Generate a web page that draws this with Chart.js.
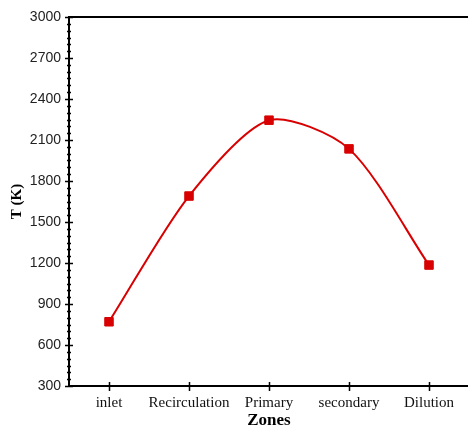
<!DOCTYPE html>
<html>
<head>
<meta charset="utf-8">
<script src="https://cdn.jsdelivr.net/npm/chart.js@4/dist/chart.umd.min.js"></script>
<style>
  html, body { margin: 0; padding: 0; background: #fff; overflow: hidden; }
  #wrap { width: 476px; height: 426px; }
</style>
</head>
<body>
<div id="wrap"><canvas id="chart" width="476" height="426"></canvas></div>
<script>
const ZONES = ["inlet", "Recirculation", "Primary", "secondary", "Dilution"];
const TEMPS = [770, 1690, 2245, 2035, 1185];
const Y_MIN = 300;
const Y_MAX = 3000;
const Y_STEP = 300;
const Y_MINOR = 50;

// ticks crossing the axis lines + the top frame line
const axisTicks = {
  id: "axisTicks",
  afterDraw(chart) {
    const { ctx, chartArea: a, scales } = chart;
    ctx.save();
    ctx.strokeStyle = "#000";
    ctx.lineWidth = 1.5;
    ctx.beginPath();
    for (let v = Y_MIN; v <= Y_MAX; v += Y_MINOR) {
      const py = Math.round(scales.y.getPixelForValue(v)) + 0.5;
      const len = v % Y_STEP === 0 ? 4 : 2;
      ctx.moveTo(a.left - len, py);
      ctx.lineTo(a.left + len, py);
    }
    ZONES.forEach((z, i) => {
      const px = Math.round(scales.x.getPixelForValue(i)) + 0.5;
      ctx.moveTo(px, a.bottom - 4);
      ctx.lineTo(px, a.bottom + 5);
    });
    ctx.stroke();
    ctx.lineWidth = 2;
    ctx.beginPath();
    ctx.moveTo(a.left, a.top);
    ctx.lineTo(chart.width, a.top);
    ctx.stroke();
    ctx.restore();
  }
};

new Chart(document.getElementById("chart"), {
  type: "line",
  data: {
    labels: ZONES,
    datasets: [{
      data: TEMPS,
      borderColor: "#d80000",
      backgroundColor: "#d80000",
      borderWidth: 2,
      tension: 0.27,
      pointStyle: "rect",
      pointRadius: 6,
      pointBorderWidth: 1,
      pointHoverRadius: 6,
    }],
  },
  options: {
    responsive: false,
    animation: false,
    layout: { padding: { top: 17, right: 4, left: 0, bottom: 0 } },
    plugins: { legend: { display: false }, tooltip: { enabled: false } },
    scales: {
      x: {
        offset: true,
        grid: { display: false },
        border: { display: true, color: "#000", width: 2 },
        ticks: {
          color: "#111",
          padding: 0,
          autoSkip: false,
          maxRotation: 0,
          font: { family: "'Liberation Serif', serif", size: 15 },
        },
        title: {
          display: true,
          text: "Zones",
          color: "#000",
          padding: { top: 0, bottom: -3 },
          font: { family: "'Liberation Serif', serif", size: 17, weight: "bold", lineHeight: 1 },
        },
        afterFit(scale) { scale.height = 40; },
      },
      y: {
        min: Y_MIN,
        max: Y_MAX,
        grid: { display: false },
        border: { display: true, color: "#000", width: 2 },
        ticks: {
          stepSize: Y_STEP,
          color: "#222",
          padding: 0,
          font: { family: "'Liberation Sans', Arial, sans-serif", size: 14 },
          callback: (v) => String(v),
        },
        title: {
          display: true,
          text: "T (K)",
          color: "#000",
          padding: { top: 10, bottom: 0 },
          font: { family: "'Liberation Serif', serif", size: 15, weight: "bold", lineHeight: 1 },
        },
        afterFit(scale) { scale.width = 69; },
      },
    },
  },
  plugins: [axisTicks],
});
</script>
</body>
</html>
